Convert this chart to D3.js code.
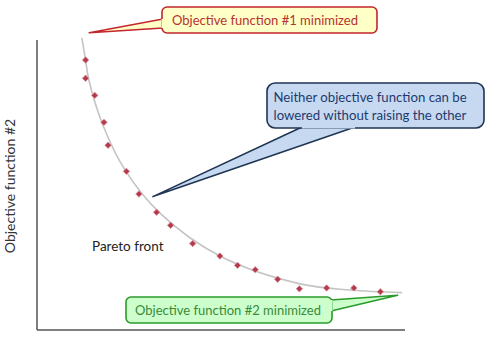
<!DOCTYPE html>
<html>
<head>
<meta charset="utf-8">
<script src="https://cdn.jsdelivr.net/npm/d3@7"></script>
<style>
  body { margin: 0; background: #fff; }
  svg { display: block; font-family: Lato, "Open Sans", sans-serif; }
</style>
</head>
<body>
<div id="chart"></div>
<script>
const width = 486;
const height = 343;

// Pareto front samples (objective #1, objective #2)
const obj1 = [1.32, 1.32, 1.57, 1.82, 1.93, 2.43, 2.77, 3.25, 3.63, 4.23, 4.97, 5.45, 5.93, 6.54, 7.13, 7.87, 8.61, 9.33];
const obj2 = [9.31, 8.68, 8.09, 7.16, 6.37, 5.47, 4.69, 4.06, 3.61, 2.98, 2.55, 2.23, 2.08, 1.75, 1.42, 1.45, 1.45, 1.32];

// smooth trade-off curve
const curveX = [1.22, 1.32, 1.41, 1.79, 2.39, 3.34, 4.97, 7.15, 8.51, 9.92];
const curveY = [10.07, 9.3, 8.62, 7.07, 5.52, 4.03, 2.55, 1.59, 1.38, 1.29];

const xScale = d3.scaleLinear().domain([0, 10]).range([37, 405]);
const yScale = d3.scaleLinear().domain([0, 10]).range([330, 40]);

const svg = d3.select("#chart")
    .append("svg")
    .attr("width", width)
    .attr("height", height);

// axes (plain lines, no ticks)
svg.append("line")
    .attr("x1", xScale(0)).attr("y1", yScale(0))
    .attr("x2", xScale(0)).attr("y2", yScale(10))
    .attr("stroke", "#555").attr("stroke-width", 1.5);
svg.append("line")
    .attr("x1", xScale(0)).attr("y1", yScale(0))
    .attr("x2", xScale(10)).attr("y2", yScale(0))
    .attr("stroke", "#555").attr("stroke-width", 1.5);

svg.append("text")
    .attr("transform", `translate(15, 186) rotate(-90)`)
    .attr("text-anchor", "middle")
    .attr("font-size", 14)
    .attr("fill", "#333")
    .text("Objective function #2");

// curve
const line = d3.line()
    .x((d, i) => xScale(curveX[i]))
    .y((d, i) => yScale(curveY[i]))
    .curve(d3.curveCatmullRom);

svg.append("path")
    .datum(curveX)
    .attr("d", line)
    .attr("fill", "none")
    .attr("stroke", "#c4c4c4")
    .attr("stroke-width", 1.6);

// points
svg.selectAll(".pt")
    .data(obj1)
    .enter()
    .append("path")
    .attr("class", "pt")
    .attr("transform", (d, i) => `translate(${xScale(d)},${yScale(obj2[i])})`)
    .attr("d", d3.symbol().type(d3.symbolDiamond2).size(26))
    .attr("fill", "#b23a4a")
    .attr("stroke", "#d98a96")
    .attr("stroke-width", 0.8);

svg.append("text")
    .attr("x", 92).attr("y", 251)
    .attr("font-size", 13.5)
    .attr("fill", "#222")
    .text("Pareto front");

// callout helper: rounded box + wedge pointer
function callout(box, tip, base, fill, stroke, sw) {
    const g = svg.append("g");
    g.append("path")
        .attr("d", `M${base[0][0]},${base[0][1]} L${tip[0]},${tip[1]} L${base[1][0]},${base[1][1]} Z`)
        .attr("fill", fill).attr("stroke", stroke).attr("stroke-width", sw)
        .attr("stroke-linejoin", "round");
    g.append("rect")
        .attr("x", box.x).attr("y", box.y)
        .attr("width", box.w).attr("height", box.h)
        .attr("rx", box.r).attr("ry", box.r)
        .attr("fill", fill).attr("stroke", stroke).attr("stroke-width", sw);
    // cover the wedge base seam
    g.append("path")
        .attr("d", `M${base[0][0]},${base[0][1]} L${base[1][0]},${base[1][1]}`)
        .attr("stroke", fill).attr("stroke-width", sw + 1.5);
    return g;
}

// #1 minimized (red / yellow)
const c1 = callout({ x: 162, y: 7, w: 215, h: 26, r: 5 },
    [xScale(1.42), yScale(10.25)],
    [[163, 19], [163, 28]],
    "#ffffc8", "#c1272d", 1.6);
c1.append("text")
    .attr("x", 265).attr("y", 25)
    .attr("text-anchor", "middle")
    .attr("font-size", 13)
    .attr("fill", "#b8312f")
    .text("Objective function #1 minimized");

// neither can be lowered (blue)
const c2 = callout({ x: 267, y: 83, w: 217, h: 45, r: 8 },
    [xScale(3.15), yScale(4.6)],
    [[302, 127], [355, 127]],
    "#c6d9f1", "#1f3552", 1.6);
c2.append("text")
    .attr("x", 370).attr("y", 102)
    .attr("text-anchor", "middle")
    .attr("font-size", 13.2)
    .attr("fill", "#1f3a6e")
    .text("Neither objective function can be");
c2.append("text")
    .attr("x", 370).attr("y", 120)
    .attr("text-anchor", "middle")
    .attr("font-size", 13.2)
    .attr("fill", "#1f3a6e")
    .text("lowered without raising the other");

// #2 minimized (green)
const c3 = callout({ x: 126, y: 297, w: 206, h: 26, r: 5 },
    [xScale(9.8), yScale(1.2)],
    [[331, 300], [331, 311]],
    "#ccffcc", "#2a9a2a", 1.6);
c3.append("text")
    .attr("x", 228).attr("y", 315)
    .attr("text-anchor", "middle")
    .attr("font-size", 13)
    .attr("fill", "#3a8a3a")
    .text("Objective function #2 minimized");
</script>
</body>
</html>
